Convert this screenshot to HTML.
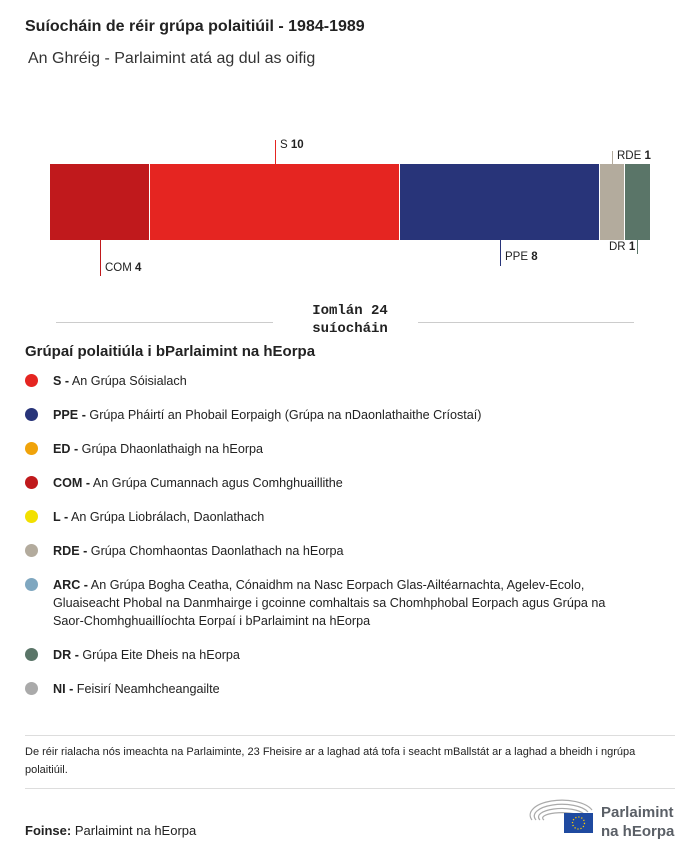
<!DOCTYPE html>
<html><head><meta charset="utf-8"><style>
body{margin:0;width:700px;height:856px;background:#fff;font-family:"Liberation Sans",sans-serif;color:#222;position:relative;overflow:hidden}
.a{position:absolute}
.t{font-size:11.5px;white-space:nowrap}
.leg{position:absolute;left:25px;font-size:12.6px;line-height:18px;width:636px}
.leg i{position:absolute;left:0;top:2px;width:13px;height:13px;border-radius:50%}
.leg span{display:block;padding-left:28px}
</style></head><body>
<div class="a" style="left:25px;top:18px;font-size:16px;font-weight:bold;color:#222">Suíocháin de réir grúpa polaitiúil - 1984-1989</div>
<div class="a" style="left:28px;top:50px;font-size:16px;color:#333">An Ghréig - Parlaimint atá ag dul as oifig</div>

<div class="a" style="left:50px;top:164px;width:99px;height:76px;background:#c0191c"></div>
<div class="a" style="left:150px;top:164px;width:249px;height:76px;background:#e52521"></div>
<div class="a" style="left:400px;top:164px;width:199px;height:76px;background:#283479"></div>
<div class="a" style="left:600px;top:164px;width:24px;height:76px;background:#b3ab9d"></div>
<div class="a" style="left:625px;top:164px;width:25px;height:76px;background:#5a7568"></div>

<div class="a" style="left:275px;top:140px;width:1px;height:24px;background:#e52521"></div>
<div class="a t" style="left:280px;top:139px">S <b>10</b></div>
<div class="a" style="left:100px;top:240px;width:1px;height:36px;background:#c0191c"></div>
<div class="a t" style="left:105px;top:262px">COM <b>4</b></div>
<div class="a" style="left:500px;top:240px;width:1px;height:26px;background:#283479"></div>
<div class="a t" style="left:505px;top:251px">PPE <b>8</b></div>
<div class="a" style="left:612px;top:151px;width:1px;height:13px;background:#b3ab9d"></div>
<div class="a t" style="left:617px;top:150px">RDE <b>1</b></div>
<div class="a" style="left:637px;top:240px;width:1px;height:14px;background:#5a7568"></div>
<div class="a t" style="left:609px;top:241px">DR <b>1</b></div>

<div class="a" style="left:56px;top:322px;width:217px;height:1px;background:#ccc"></div>
<div class="a" style="left:418px;top:322px;width:216px;height:1px;background:#ccc"></div>
<div class="a" style="left:290px;top:302px;width:120px;text-align:center;font-family:'Liberation Mono',monospace;font-weight:bold;font-size:14px;line-height:18px">Iomlán 24<br>suíocháin</div>

<div class="a" style="left:25px;top:343px;font-size:15px;font-weight:bold">Grúpaí polaitiúla i bParlaimint na hEorpa</div>
<div class="leg" style="top:372px"><i style="background:#e52521"></i><span><b>S -</b> An Grúpa Sóisialach</span></div>
<div class="leg" style="top:406px"><i style="background:#283479"></i><span><b>PPE -</b> Grúpa Pháirtí an Phobail Eorpaigh (Grúpa na nDaonlathaithe Críostaí)</span></div>
<div class="leg" style="top:440px"><i style="background:#f0a30a"></i><span><b>ED -</b> Grúpa Dhaonlathaigh na hEorpa</span></div>
<div class="leg" style="top:474px"><i style="background:#c0191c"></i><span><b>COM -</b> An Grúpa Cumannach agus Comhghuaillithe</span></div>
<div class="leg" style="top:508px"><i style="background:#f2e000"></i><span><b>L -</b> An Grúpa Liobrálach, Daonlathach</span></div>
<div class="leg" style="top:542px"><i style="background:#b3ab9d"></i><span><b>RDE -</b> Grúpa Chomhaontas Daonlathach na hEorpa</span></div>
<div class="leg" style="top:576px"><i style="background:#7fa7c0"></i><span><b>ARC -</b> An Grúpa Bogha Ceatha, Cónaidhm na Nasc Eorpach Glas-Ailtéarnachta, Agelev-Ecolo,<br>Gluaiseacht Phobal na Danmhairge i gcoinne comhaltais sa Chomhphobal Eorpach agus Grúpa na<br>Saor-Chomhghuaillíochta Eorpaí i bParlaimint na hEorpa</span></div>
<div class="leg" style="top:646px"><i style="background:#5a7568"></i><span><b>DR -</b> Grúpa Eite Dheis na hEorpa</span></div>
<div class="leg" style="top:680px"><i style="background:#aaa"></i><span><b>NI -</b> Feisirí Neamhcheangailte</span></div>

<div class="a" style="left:25px;top:735px;width:650px;height:1px;background:#ddd"></div>
<div class="a" style="left:25px;top:743px;width:640px;font-size:11px;line-height:18px">De réir rialacha nós imeachta na Parlaiminte, 23 Fheisire ar a laghad atá tofa i seacht mBallstát ar a laghad a bheidh i ngrúpa polaitiúil.</div>
<div class="a" style="left:25px;top:788px;width:650px;height:1px;background:#ddd"></div>
<div class="a" style="left:25px;top:823px;font-size:13px"><b>Foinse:</b> Parlaimint na hEorpa</div>

<svg class="a" style="left:528px;top:796px" width="70" height="40" viewBox="0 0 70 40">
<g fill="none" stroke="#aaa" stroke-width="1.2">
<path d="M4 24 A30 14 0 0 1 64 14"/><path d="M8 24 A26 11 0 0 1 60 16"/><path d="M12 24 A22 8 0 0 1 56 18"/><path d="M16 24 A18 5 0 0 1 52 20"/>
</g>
<rect x="36" y="17" width="29" height="20" fill="#1f4aa0"/>
<circle cx="50.5" cy="27" r="6" fill="none" stroke="#fc0" stroke-width="1.3" stroke-dasharray="1.2 1.9"/>
</svg>
<div class="a" style="left:601px;top:803px;font-size:15px;font-weight:bold;color:#5a5f66;line-height:19px">Parlaimint<br>na hEorpa</div>
</body></html>
